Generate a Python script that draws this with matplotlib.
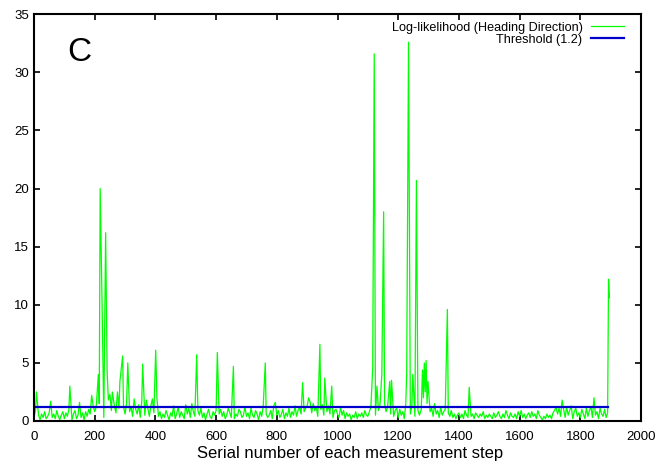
import numpy as np
import matplotlib
matplotlib.use("Agg")
import matplotlib.pyplot as plt

plt.rcParams["font.family"] = ["Liberation Sans", "DejaVu Sans"]

# baseline noise, one value every 5 steps (rows of 100 steps)
BASE_STEP = 5
base_values = [
    0.3, 0.9, 0.2, 0.5, 0.1, 0.6, 0.3, 0.8, 0.2, 0.4, 0.7, 1.7, 0.3, 0.6, 0.2, 0.9, 0.4, 0.1, 0.5, 0.8,
    0.2, 0.7, 0.4, 1.0, 0.3, 0.1, 0.6, 0.9, 0.2, 0.5, 1.6, 0.3, 0.7, 0.1, 0.8, 0.4, 1.0, 0.6, 0.2, 1.3,
    0.8, 1.2, 0.6, 1.5, 0.9, 1.1, 0.3, 0.2, 1.0, 1.8, 2.3, 0.9, 2.4, 1.3, 0.7, 2.5, 1.1, 0.5, 1.9, 1.2,
    0.6, 1.5, 2.6, 0.8, 1.2, 0.4, 1.9, 1.0, 0.6, 1.4, 0.3, 1.7, 0.9, 0.5, 1.8, 1.1, 0.4, 1.3, 1.9, 0.7,
    1.0, 2.0, 0.4, 0.8, 0.2, 0.6, 0.3, 0.9, 0.5, 0.1, 0.7, 0.4, 1.3, 0.2, 0.6, 1.2, 0.3, 0.8, 0.5, 0.2,
    1.4, 0.6, 1.1, 0.3, 1.5, 0.8, 0.4, 0.2, 0.9, 0.5, 1.1, 0.3, 0.7, 0.1, 0.6, 1.0, 0.4, 0.2, 0.8, 0.5,
    0.9, 0.3, 0.6, 1.0, 0.4, 0.8, 0.2, 0.5, 1.1, 0.7, 0.3, 0.9, 0.2, 0.6, 0.4, 1.0, 0.8, 0.3, 0.5, 1.2,
    0.4, 0.7, 0.2, 1.1, 0.5, 0.3, 0.9, 0.6, 0.1, 0.8, 0.4, 1.2, 1.0, 0.6, 0.3, 0.5, 0.9, 0.2, 1.3, 1.6,
    0.5, 0.9, 0.3, 0.6, 1.0, 0.2, 0.7, 0.4, 1.1, 0.3, 0.8, 0.5, 1.3, 0.4, 0.9, 1.2, 0.6, 1.4, 0.8, 1.1,
    1.3, 2.0, 1.6, 0.7, 1.5, 0.9, 1.2, 0.4, 2.2, 1.0, 1.4, 0.5, 1.8, 0.8, 1.3, 0.6, 1.1, 0.3, 0.9, 1.0,
    0.6, 0.3, 1.2, 0.5, 0.9, 0.2, 0.7, 0.4, 0.6, 0.1, 0.5, 0.3, 0.8, 0.2, 0.6, 0.4, 0.7, 0.3, 0.9, 0.5,
    0.4, 0.8, 1.2, 0.6, 1.3, 0.5, 1.1, 0.9, 1.4, 0.7, 2.0, 1.5, 0.8, 1.2, 2.5, 0.6, 1.3, 0.4, 0.9, 1.1,
    0.3, 1.0, 0.5, 0.8, 0.2, 1.5, 1.0, 1.1, 0.6, 1.3, 2.3, 0.4, 1.4, 0.9, 0.5, 1.2, 1.6, 2.4, 1.0, 1.3,
    1.5, 0.8, 1.1, 0.4, 1.5, 0.6, 0.9, 0.3, 1.2, 0.5, 0.8, 1.0, 0.2, 0.7, 0.4, 0.9, 0.3, 0.6, 0.2, 0.5,
    0.7, 0.3, 0.6, 0.2, 0.9, 0.5, 0.3, 0.8, 0.4, 0.6, 0.2, 0.7, 0.5, 0.3, 0.6, 0.4, 0.8, 0.2, 0.5, 0.3,
    0.6, 0.4, 0.2, 0.7, 0.3, 0.5, 0.8, 0.4, 0.2, 0.6, 0.3, 0.9, 0.5, 0.2, 0.7, 0.4, 0.3, 0.6, 0.2, 0.8,
    0.4, 0.9, 0.3, 0.6, 0.2, 0.5, 0.7, 0.3, 0.8, 0.4, 0.6, 0.2, 0.9, 0.5, 0.3, 0.1, 0.4, 0.2, 0.6, 0.3,
    0.5, 0.2, 0.7, 0.9, 1.2, 0.6, 1.1, 0.4, 1.8, 1.0, 0.3, 1.2, 0.5, 0.9, 1.3, 0.2, 0.8, 1.1, 0.4, 0.7,
    0.3, 1.0, 0.6, 0.2, 1.1, 0.4, 0.9, 1.2, 0.3, 2.0, 0.5, 0.8, 0.2, 1.1, 0.6, 0.4, 1.0, 0.3, 0.7,
]

# isolated spikes (and the dips between them)
spike_steps = [8, 118, 190, 212, 218, 224, 236, 241, 258, 283, 292, 309, 358, 401,
               536, 604, 657, 762, 885, 938, 942, 958, 981, 1116, 1121, 1130, 1146,
               1152, 1172, 1178, 1228, 1234, 1248, 1260, 1276, 1280, 1283, 1286,
               1289, 1292, 1295, 1298, 1362, 1434, 1893, 1896]
spike_values = [2.5, 3.0, 2.2, 4.0, 20.0, 10.5, 16.2, 4.2, 2.5, 3.4, 5.6, 5.0, 4.9, 6.1,
                5.7, 5.9, 4.7, 5.0, 3.3, 3.0, 6.6, 3.7, 3.0, 4.6, 31.6, 3.0, 4.0,
                18.0, 3.4, 3.5, 4.2, 32.6, 4.0, 20.7, 1.0, 4.4, 2.0, 5.0,
                2.5, 5.2, 1.5, 3.4, 9.6, 2.9, 12.2, 10.6]

THRESHOLD = 1.2
THRESHOLD_END = 1892


def build_series():
    base_x = np.arange(len(base_values)) * BASE_STEP
    base_y = np.array(base_values)
    sx = np.array(spike_steps)
    keep = np.array([np.min(np.abs(sx - x)) > 2 for x in base_x])
    x = np.concatenate([base_x[keep], sx])
    y = np.concatenate([base_y[keep], np.array(spike_values)])
    order = np.argsort(x)
    return x[order], y[order]


def main():
    x, y = build_series()

    fig = plt.figure(figsize=(6.59, 4.66), dpi=100)
    ax = fig.add_axes([0.0516, 0.0966, 0.9211, 0.8727])

    ax.plot(x, y, color="#00ff00", lw=0.9, label="Log-likelihood (Heading Direction)")
    ax.plot([0, THRESHOLD_END], [THRESHOLD, THRESHOLD], color="#0000cc", lw=1.6,
            label="Threshold (1.2)")

    ax.set_xlim(0, 2000)
    ax.set_ylim(0, 35)
    ax.set_xticks(range(0, 2001, 200))
    ax.set_yticks(range(0, 36, 5))
    ax.tick_params(direction="in", top=True, right=True, length=4, width=1.2,
                   labelsize=9.5)
    ax.tick_params(axis="x", pad=7)
    for s in ax.spines.values():
        s.set_linewidth(1.5)

    ax.set_xlabel("Serial number of each measurement step", fontsize=12)
    ax.xaxis.set_label_coords(0.52, -0.062)
    ax.text(0.055, 0.905, "C", transform=ax.transAxes, fontsize=24, va="center")

    ax.legend(loc="upper right", frameon=False, markerfirst=False, fontsize=9.1,
              handlelength=2.6, handletextpad=0.7, labelspacing=0.0,
              borderaxespad=0.2, bbox_to_anchor=(0.985, 1.0))

    fig.savefig("out.png", dpi=100)
    plt.close(fig)


if __name__ == "__main__":
    main()
